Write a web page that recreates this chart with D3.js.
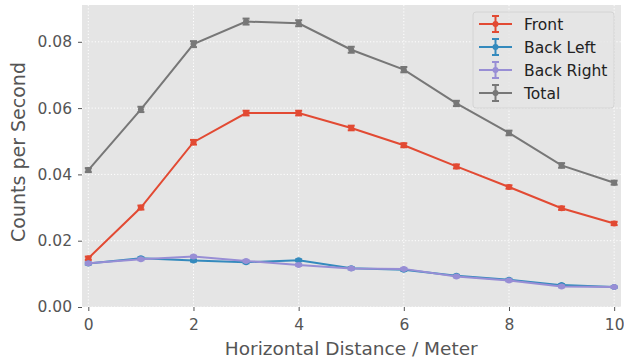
<!DOCTYPE html>
<html>
<head>
<meta charset="utf-8">
<script src="https://cdn.jsdelivr.net/npm/d3@7"></script>
<style>
  body { margin: 0; background: #fff; }
  text { font-family: "DejaVu Sans", sans-serif; }
</style>
</head>
<body>
<div id="chart"></div>
<script>
// distances in meter
var distances = [0, 1, 2, 3, 4, 5, 6, 7, 8, 9, 10];

var front = [0.0147, 0.0300, 0.0497, 0.0585, 0.0585, 0.0540, 0.0488, 0.0424, 0.0362, 0.0298, 0.0252];
var backLeft = [0.0131, 0.0147, 0.0140, 0.0135, 0.0141, 0.0117, 0.0112, 0.0094, 0.0082, 0.0066, 0.0060];
var backRight = [0.0132, 0.0144, 0.0152, 0.0139, 0.0127, 0.0116, 0.0115, 0.0092, 0.0080, 0.0062, 0.0060];
var total = [0.0413, 0.0596, 0.0793, 0.0861, 0.0856, 0.0776, 0.0716, 0.0614, 0.0525, 0.0427, 0.0375];

// error (+/-)
var frontErr = [0.0005, 0.0006, 0.0007, 0.0007, 0.0007, 0.0007, 0.0006, 0.0006, 0.0005, 0.0005, 0.0005];
var backLeftErr = [0.0003, 0.0003, 0.0003, 0.0003, 0.0003, 0.0003, 0.0003, 0.0003, 0.0003, 0.0003, 0.0002];
var backRightErr = [0.0003, 0.0003, 0.0003, 0.0003, 0.0003, 0.0003, 0.0003, 0.0003, 0.0003, 0.0003, 0.0002];
var totalErr = [0.0006, 0.0008, 0.0009, 0.0009, 0.0009, 0.0009, 0.0008, 0.0008, 0.0007, 0.0007, 0.0006];

var xTicks = [0, 2, 4, 6, 8, 10];
var yTicks = [0, 0.02, 0.04, 0.06, 0.08];

var series = [
    { name: "Front", values: front, err: frontErr, color: "#E24A33" },
    { name: "Back Left", values: backLeft, err: backLeftErr, color: "#348ABD" },
    { name: "Back Right", values: backRight, err: backRightErr, color: "#988ED5" },
    { name: "Total", values: total, err: totalErr, color: "#777777" }
];

var W = 624, H = 363;
var margin = { top: 5, right: 3, bottom: 56, left: 82 },
    width = W - margin.left - margin.right,
    height = H - margin.top - margin.bottom;

var svg = d3.select("#chart")
    .append("svg")
    .attr("width", W)
    .attr("height", H);

var g = svg.append("g")
    .attr("transform", "translate(" + margin.left + "," + margin.top + ")");

var x = d3.scaleLinear().domain([-0.12, 10.13]).range([0, width]);
var y = d3.scaleLinear().domain([0, 0.0911]).range([height, 0]);

g.append("rect")
    .attr("width", width)
    .attr("height", height)
    .attr("fill", "#E5E5E5");

// grid
g.selectAll(".xgrid")
    .data(xTicks)
    .enter().append("line")
    .attr("x1", function (d) { return x(d); })
    .attr("x2", function (d) { return x(d); })
    .attr("y1", 0).attr("y2", height)
    .attr("stroke", "#fff").attr("stroke-width", 1)
    .attr("stroke-dasharray", "1.2,2");

g.selectAll(".ygrid")
    .data(yTicks)
    .enter().append("line")
    .attr("y1", function (d) { return y(d); })
    .attr("y2", function (d) { return y(d); })
    .attr("x1", 0).attr("x2", width)
    .attr("stroke", "#fff").attr("stroke-width", 1)
    .attr("stroke-dasharray", "1.2,2");

// axes
var xAxis = g.append("g")
    .attr("transform", "translate(0," + height + ")")
    .call(d3.axisBottom(x).tickValues(xTicks).tickSize(4).tickPadding(6).tickFormat(d3.format("d")));
var yAxis = g.append("g")
    .call(d3.axisLeft(y).tickValues(yTicks).tickSize(4).tickPadding(6).tickFormat(d3.format(".2f")));

[xAxis, yAxis].forEach(function (a) {
    a.select(".domain").remove();
    a.selectAll("line").attr("stroke", "#555").attr("stroke-width", 1);
    a.selectAll("text").attr("fill", "#555").style("font-size", "15.5px");
});
xAxis.selectAll("text").attr("dy", "0.85em");

// lines + error bars
var line = d3.line()
    .x(function (d, i) { return x(distances[i]); })
    .y(function (d) { return y(d); });

series.forEach(function (s) {
    var sg = g.append("g");
    sg.append("path")
        .datum(s.values)
        .attr("d", line)
        .attr("fill", "none")
        .attr("stroke", s.color)
        .attr("stroke-width", 2);

    var pts = s.values.map(function (v, i) { return { x: distances[i], v: v, e: s.err[i] }; });
    var eb = sg.selectAll(".eb").data(pts).enter().append("g");
    eb.append("line")
        .attr("x1", function (d) { return x(d.x); })
        .attr("x2", function (d) { return x(d.x); })
        .attr("y1", function (d) { return y(d.v - d.e); })
        .attr("y2", function (d) { return y(d.v + d.e); })
        .attr("stroke", s.color).attr("stroke-width", 2);
    [-1, 1].forEach(function (sign) {
        eb.append("line")
            .attr("x1", function (d) { return x(d.x) - 3.5; })
            .attr("x2", function (d) { return x(d.x) + 3.5; })
            .attr("y1", function (d) { return y(d.v + sign * d.e); })
            .attr("y2", function (d) { return y(d.v + sign * d.e); })
            .attr("stroke", s.color).attr("stroke-width", 2);
    });
    eb.append("circle")
        .attr("cx", function (d) { return x(d.x); })
        .attr("cy", function (d) { return y(d.v); })
        .attr("r", 3)
        .attr("fill", s.color);
});

// axis labels
svg.append("text")
    .attr("x", margin.left + x(5))
    .attr("y", 355)
    .attr("text-anchor", "middle")
    .attr("fill", "#555")
    .style("font-size", "18.5px")
    .text("Horizontal Distance / Meter");

svg.append("text")
    .attr("transform", "translate(25," + (margin.top + height / 2 - 4) + ") rotate(-90)")
    .attr("text-anchor", "middle")
    .attr("fill", "#555")
    .style("font-size", "19px")
    .text("Counts per Second");

// legend
var lg = svg.append("g").attr("transform", "translate(473,12)");
lg.append("rect")
    .attr("width", 141).attr("height", 96)
    .attr("rx", 3)
    .attr("fill", "#E5E5E5").attr("fill-opacity", 0.8)
    .attr("stroke", "#D4D4D4").attr("stroke-width", 1);

series.forEach(function (s, i) {
    var row = lg.append("g").attr("transform", "translate(0," + (12 + i * 23) + ")");
    row.append("line").attr("x1", 6).attr("x2", 39).attr("y1", 0).attr("y2", 0)
        .attr("stroke", s.color).attr("stroke-width", 2);
    row.append("line").attr("x1", 22.5).attr("x2", 22.5).attr("y1", -8).attr("y2", 8)
        .attr("stroke", s.color).attr("stroke-width", 2);
    row.append("line").attr("x1", 19).attr("x2", 26).attr("y1", -8).attr("y2", -8)
        .attr("stroke", s.color).attr("stroke-width", 2);
    row.append("line").attr("x1", 19).attr("x2", 26).attr("y1", 8).attr("y2", 8)
        .attr("stroke", s.color).attr("stroke-width", 2);
    row.append("circle").attr("cx", 22.5).attr("cy", 0).attr("r", 3).attr("fill", s.color);
    row.append("text")
        .attr("x", 51).attr("y", 0).attr("dy", "0.36em")
        .attr("fill", "#222")
        .style("font-size", "15.5px")
        .text(s.name);
});
</script>
</body>
</html>
